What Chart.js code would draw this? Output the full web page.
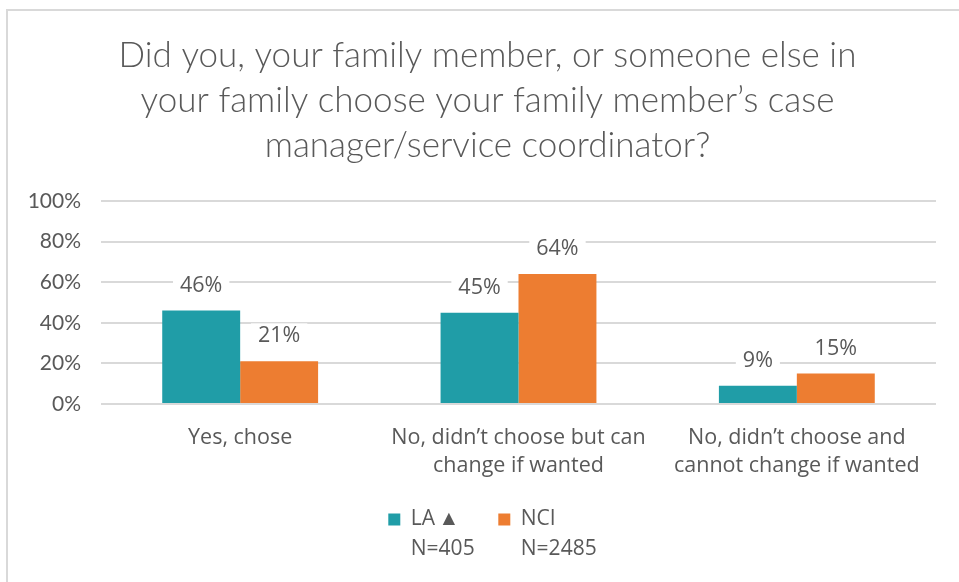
<!DOCTYPE html>
<html>
<head>
<meta charset="utf-8">
<script src="https://cdn.jsdelivr.net/npm/chart.js@4/dist/chart.umd.min.js"></script>
<style>
  html, body { margin: 0; padding: 0; background: #fff; overflow: hidden; }
  #frame {
    position: absolute; left: 6px; top: 9px;
    width: 951px; height: 571px;
    border-left: 2px solid #d9d9d9; border-top: 2px solid #d9d9d9;
  }
  #frame canvas { display: block; }
</style>
</head>
<body>
<div id="frame"><canvas id="choose-cm-chart" width="951" height="571"></canvas></div>
<script>
const titleLines = [
  'Did you, your family member, or someone else in',
  'your family choose your family member\u2019s case',
  'manager/service coordinator?',
];
const categories = [
  ['Yes, chose'],
  ['No, didn\u2019t choose but can', 'change if wanted'],
  ['No, didn\u2019t choose and', 'cannot change if wanted'],
];
const laValues = [46, 45, 9];
const nciValues = [21, 64, 15];
const seriesNames = ['LA\u2009\u25B2', 'NCI'];
const seriesCounts = ['N=405', 'N=2485'];
const yTicks = [0, 20, 40, 60, 80, 100];

const TEXT_COLOR = '#595959';
const TEAL = '#209da7';
const ORANGE = '#ed7d31';
const LABEL_FONT = '"Open Sans", sans-serif';
const LEGEND_SIZE = 21;

// title sits a little right of the canvas centre; the two-line category
// labels are allowed to run down into the gap above the legend
const layoutTweaks = {
  id: 'layoutTweaks',
  afterLayout(chart) {
    if (chart.titleBlock) chart.titleBlock.left += 31;
    if (chart.legend) chart.scales.x.bottom = chart.legend.bottom;
  },
};

// value labels sitting on a white patch above each bar
const barValueLabels = {
  id: 'barValueLabels',
  afterDatasetsDraw(chart) {
    const ctx = chart.ctx;
    ctx.save();
    ctx.font = '21.5px ' + LABEL_FONT;
    ctx.textAlign = 'center';
    ctx.textBaseline = 'middle';
    chart.data.datasets.forEach((ds, i) => {
      chart.getDatasetMeta(i).data.forEach((bar, j) => {
        const text = ds.data[j] + '%';
        const w = ctx.measureText(text).width + 14;
        const y = bar.y - 25;
        ctx.fillStyle = '#fff';
        ctx.fillRect(bar.x - w / 2, y - 13, w, 26);
        ctx.fillStyle = TEXT_COLOR;
        ctx.fillText(text, bar.x, y);
      });
    });
    ctx.restore();
  },
};

// sample sizes written under each legend entry
const legendCounts = {
  id: 'legendCounts',
  afterDraw(chart) {
    const legend = chart.legend;
    if (!legend || !legend.legendHitBoxes) return;
    const ctx = chart.ctx;
    const opts = legend.options.labels;
    ctx.save();
    ctx.font = LEGEND_SIZE + 'px ' + LABEL_FONT;
    ctx.fillStyle = TEXT_COLOR;
    ctx.textAlign = 'left';
    ctx.textBaseline = 'middle';
    legend.legendHitBoxes.forEach((box, i) => {
      const x = box.left + opts.boxWidth + LEGEND_SIZE / 2;
      const y = box.top + box.height / 2 + 30;
      ctx.fillText(seriesCounts[i], x, y);
    });
    ctx.restore();
  },
};

const data = {
  labels: categories,
  datasets: [
    { label: seriesNames[0], data: laValues, backgroundColor: TEAL },
    { label: seriesNames[1], data: nciValues, backgroundColor: ORANGE },
  ],
};

const config = {
  type: 'bar',
  data: data,
  plugins: [layoutTweaks, barValueLabels, legendCounts],
  options: {
    responsive: false,
    animation: false,
    layout: { padding: { left: 0, right: 23, top: 0, bottom: 42 } },
    datasets: {
      bar: { categoryPercentage: 0.56, barPercentage: 1.0 },
    },
    scales: {
      x: {
        grid: { display: false, drawTicks: false },
        border: { display: false },
        ticks: {
          color: TEXT_COLOR,
          font: { family: LABEL_FONT, size: 21.5, lineHeight: '28px' },
          padding: 20,
          maxRotation: 0,
        },
        afterFit(scale) { scale.height = 66; },
      },
      y: {
        min: 0,
        max: 100,
        afterBuildTicks(scale) { scale.ticks = yTicks.map(v => ({ value: v })); },
        grid: { color: '#d9d9d9', lineWidth: 2, drawTicks: false },
        border: { display: false },
        ticks: {
          color: TEXT_COLOR,
          font: { family: 'Lato, sans-serif', size: 21 },
          padding: 20,
          callback: v => v + '%',
        },
        afterFit(scale) { scale.width = 93; },
      },
    },
    plugins: {
      title: {
        display: true,
        text: titleLines,
        color: TEXT_COLOR,
        font: { family: 'Lato, sans-serif', size: 35, weight: 300, lineHeight: '45px' },
        padding: { top: 22, bottom: 33 },
      },
      legend: {
        position: 'bottom',
        labels: {
          color: TEXT_COLOR,
          font: { family: LABEL_FONT, size: LEGEND_SIZE },
          boxWidth: 12,
          boxHeight: 12,
          padding: 39,
        },
      },
      tooltip: { enabled: false },
    },
  },
};

new Chart(document.getElementById('choose-cm-chart'), config);
</script>
</body>
</html>
